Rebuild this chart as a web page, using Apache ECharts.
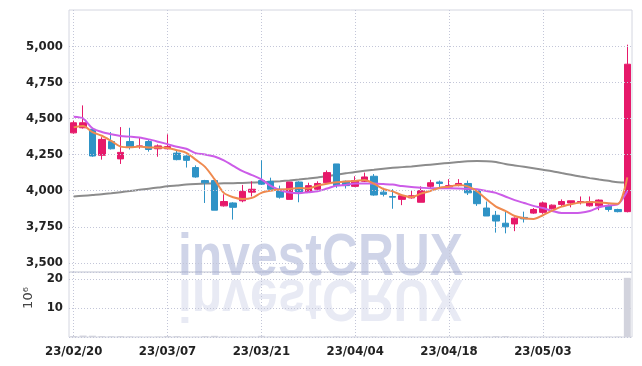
<!DOCTYPE html>
<html><head><meta charset="utf-8">
<script src="https://cdn.jsdelivr.net/npm/echarts@6/dist/echarts.min.js"></script>
<style>html,body{margin:0;padding:0;background:#fff}#c{width:642px;height:366px}</style>
</head><body><div id="c"></div>
<script>
const dates = ['23/02/20','23/02/21','23/02/22','23/02/23','23/02/24','23/02/27','23/02/28','23/03/02','23/03/03','23/03/06',
'23/03/07','23/03/08','23/03/09','23/03/10','23/03/13','23/03/14','23/03/15','23/03/16','23/03/17','23/03/20',
'23/03/21','23/03/22','23/03/23','23/03/24','23/03/27','23/03/28','23/03/29','23/03/30','23/03/31','23/04/03',
'23/04/04','23/04/05','23/04/06','23/04/07','23/04/10','23/04/11','23/04/12','23/04/13','23/04/14','23/04/17',
'23/04/18','23/04/19','23/04/20','23/04/21','23/04/24','23/04/25','23/04/26','23/04/27','23/04/28','23/05/02',
'23/05/03','23/05/04','23/05/08','23/05/09','23/05/10','23/05/11','23/05/12','23/05/15','23/05/16','23/05/17'];
const opens = [4400,4435,4425,4245,4340,4220,4340,4305,4340,4290,
4290,4260,4240,4160,4070,4070,3895,3915,3930,3990,
4070,4065,4010,3940,4060,3990,4010,4055,4185,4065,
4030,4065,4100,3990,3960,3940,3950,3920,4030,4060,
4025,4035,4050,4000,3880,3830,3775,3770,3815,3845,
3850,3875,3905,3915,3920,3895,3895,3895,3870,3855];
const closes = [4470,4470,4240,4355,4290,4265,4300,4310,4285,4310,
4305,4215,4210,4095,4055,3865,3925,3885,3995,4010,
4045,4010,3955,4060,3990,4035,4050,4125,4035,4035,
4070,4095,3970,3975,3955,3965,3965,4000,4055,4050,
4035,4050,3985,3910,3825,3790,3750,3810,3805,3870,
3915,3900,3925,3930,3925,3925,3935,3870,3855,4875];
const lows = [4395,4430,4235,4215,4285,4185,4285,4290,4270,4235,
4285,4210,4160,4090,3915,3865,3890,3800,3920,3960,
4040,4000,3945,3940,3920,3985,4005,4050,4020,4015,
4025,4060,3965,3960,3875,3900,3945,3920,4015,4015,
4020,4030,3970,3895,3825,3710,3705,3720,3780,3840,
3840,3870,3890,3885,3905,3890,3865,3855,3850,3850];
const highs = [4485,4590,4430,4370,4405,4440,4435,4365,4355,4320,
4390,4275,4245,4175,4075,4070,3975,3920,4040,4065,
4210,4090,4035,4060,4065,4055,4065,4140,4185,4070,
4100,4125,4115,4020,4010,3965,4000,4030,4075,4070,
4080,4080,4070,4005,3925,3860,3855,3815,3855,3880,
3925,3905,3940,3930,3960,3960,3940,3905,3875,5010];
const ma5 = [4438,4447,4405,4380,4344,4305,4300,4305,4298,4298,
4296,4280,4262,4215,4165,4080,3985,3955,3942,3950,
3985,4000,4008,4012,4018,4016,4035,4048,4058,4064,
4067,4074,4048,4012,3995,3968,3955,3980,3998,4021,
4028,4040,4030,3995,3940,3890,3860,3825,3810,3805,
3830,3862,3890,3906,3918,3922,3918,3913,3910,4092];
const ma10 = [4512,4500,4432,4406,4390,4378,4374,4368,4355,4339,
4322,4304,4290,4260,4250,4236,4210,4172,4135,4108,
4078,4033,4003,3987,3983,3990,3996,4015,4035,4040,
4049,4049,4049,4046,4042,4032,4025,4021,4017,4017,
4017,4016,4014,4010,3998,3985,3960,3935,3915,3895,
3880,3860,3845,3846,3848,3860,3885,3897,3906,3998];
const ma60 = [3960,3965,3970,3975,3982,3990,3998,4006,4014,4022,
4030,4036,4042,4046,4049,4050,4051,4052,4054,4056,
4058,4062,4066,4071,4077,4084,4092,4100,4110,4120,
4130,4138,4145,4152,4158,4163,4168,4174,4180,4186,
4192,4198,4203,4205,4204,4198,4185,4175,4165,4155,
4145,4135,4122,4110,4098,4087,4077,4068,4058,4056];
const volumes = [0.35,0.5,0.45,0.3,0.25,0.3,0.2,0.12,0.1,0.15,
0.35,0.3,0.12,0.1,0.3,0.4,0.15,0.12,0.1,0.12,
0.4,0.15,0.1,0.12,0.1,0.1,0.12,0.15,0.2,0.1,
0.1,0.12,0.15,0.1,0.1,0.12,0.1,0.1,0.12,0.1,
0.12,0.1,0.15,0.12,0.2,0.3,0.35,0.15,0.12,0.1,
0.12,0.1,0.1,0.12,0.1,0.12,0.1,0.12,0.15,20.4];
const priceTicks = [3500,3750,4000,4250,4500,4750,5000];
const volumeTicks = [10,20];

const UP = '#e6196a', DOWN = '#2f93c6';
const labelFont = {fontFamily:'"DejaVu Sans Condensed", "Roboto Condensed", "Liberation Sans Narrow", Roboto, sans-serif', fontWeight:'bold', fontSize:13, color:'#222'};
const gridLine = {type:[1,2], color:'#c3c6d8', width:1};

const chart = echarts.init(document.getElementById('c'), null, {renderer:'canvas'});
chart.setOption({
  animation:false,
  backgroundColor:'#fff',
  grid:[
    {left:69, right:10, top:10, height:262, show:true, borderColor:'#d4d6e0', borderWidth:1},
    {left:69, right:10, top:272, height:65, show:true, borderColor:'#d4d6e0', borderWidth:1}
  ],
  xAxis:[
    {type:'category', gridIndex:0, data:dates, boundaryGap:true,
     axisLine:{show:false}, axisTick:{show:false}, axisLabel:{show:false},
     splitLine:{show:true, interval:9, alignWithLabel:true, lineStyle:gridLine}},
    {type:'category', gridIndex:1, data:dates, boundaryGap:true,
     axisLine:{show:false}, axisTick:{show:false, alignWithLabel:true},
     axisLabel:Object.assign({interval:9, margin:8}, labelFont),
     splitLine:{show:true, interval:9, alignWithLabel:true, lineStyle:gridLine}}
  ],
  yAxis:[
    {type:'value', gridIndex:0, min:3437.5, max:5250, interval:62.5, scale:true,
     axisLine:{show:false}, axisTick:{show:false}, splitLine:{show:false},
     axisLabel:Object.assign({margin:6, formatter:function(v){
        return priceTicks.indexOf(v) >= 0 ? v.toLocaleString('en-US') : '';
     }}, labelFont)},
    {type:'value', gridIndex:1, min:0, max:22.4, interval:10,
     axisLine:{show:false}, axisTick:{show:false},
     splitLine:{show:true, lineStyle:gridLine},
     axisLabel:Object.assign({margin:6, showMinLabel:false, showMaxLabel:false, formatter:function(v){
        return volumeTicks.indexOf(v) >= 0 ? String(v) : '';
     }}, labelFont)}
  ],
  graphic:[
    {type:'text', x:178, y:228, scaleX:0.83, scaleY:1, z:0, silent:true,
     style:{text:'investCRUX', x:0, y:0, font:'bold 60px "Liberation Sans"', fill:'rgba(140,152,200,0.42)'}},
    {type:'text', x:178, y:327, scaleX:0.83, scaleY:-1, z:0, silent:true,
     style:{text:'investCRUX', x:0, y:0, font:'bold 60px "Liberation Sans"', fill:'rgba(140,152,200,0.2)'}},
    {type:'text', x:29, y:298, rotation:Math.PI/2, silent:true,
     style:{text:'10\u2076', x:0, y:0, font:'13px "DejaVu Sans"', textAlign:'center', textVerticalAlign:'middle', fill:'#444'}}
  ],
  series:[
    {type:'candlestick', xAxisIndex:0, yAxisIndex:0, barWidth:'74%', z:3,
     data:dates.map(function(d,i){return [opens[i], closes[i], lows[i], highs[i]];}),
     itemStyle:{color:UP, color0:DOWN, borderColor:UP, borderColor0:DOWN, borderWidth:1}},
    {type:'line', xAxisIndex:0, yAxisIndex:0, data:ma60, smooth:0.3, symbol:'none', z:2,
     lineStyle:{color:'#8c8c8c', width:2},
     markLine:{silent:true, symbol:'none', label:{show:false}, animation:false,
       lineStyle:gridLine, data:priceTicks.map(function(v){return {yAxis:v};})}},
    {type:'line', xAxisIndex:0, yAxisIndex:0, data:ma10, smooth:0.3, symbol:'none', z:4,
     lineStyle:{color:'#cc5ce8', width:2}},
    {type:'line', xAxisIndex:0, yAxisIndex:0, data:ma5, smooth:0.3, symbol:'none', z:4,
     lineStyle:{color:'#ef8a4f', width:2}},
    {type:'bar', xAxisIndex:1, yAxisIndex:1, data:volumes, barWidth:'74%',
     itemStyle:{color:'#d2d3dd'}}
  ]
});
</script></body></html>
